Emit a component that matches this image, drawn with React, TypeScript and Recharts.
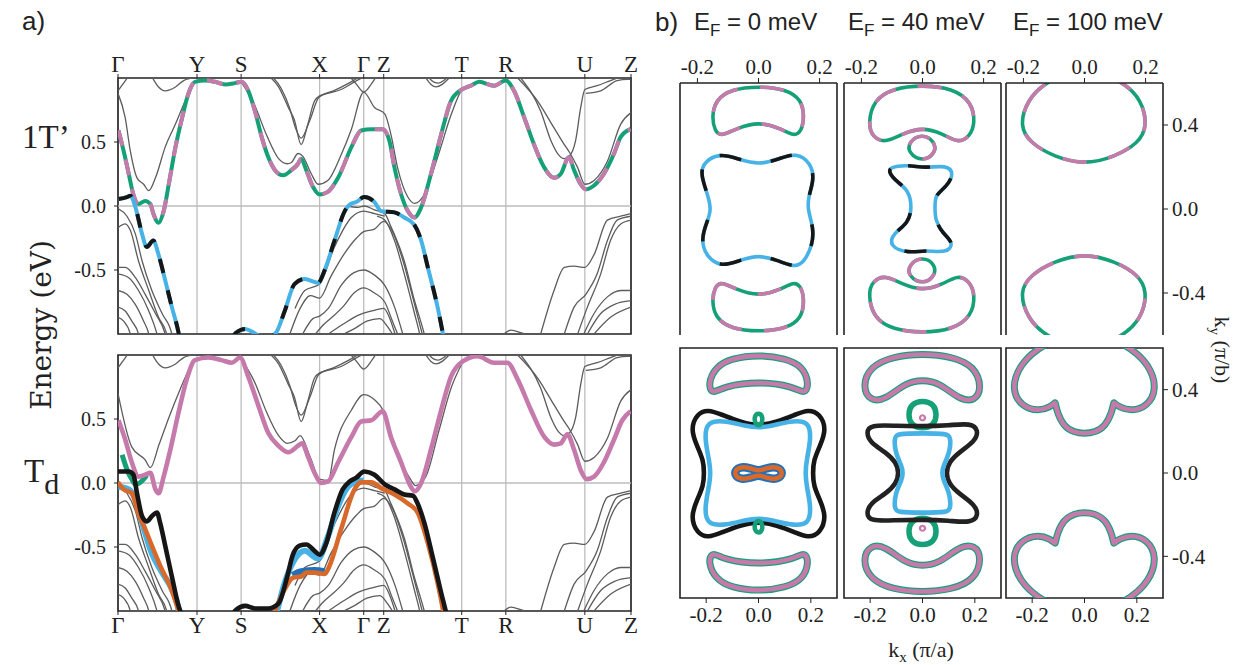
import React from 'react';
import { LineChart, Line, XAxis, YAxis, ReferenceLine, ReferenceArea, CartesianGrid } from 'recharts';

type Pt = [number, number];

const SERIF = '"Liberation Serif", "DejaVu Serif", serif';
const WIDE_SERIF = '"DejaVu Serif", serif';
const SANS = '"Liberation Sans", Arial, sans-serif';

const PINK = '#c67aab';
const GREEN = '#16a077';
const BLUE = '#47b2e6';
const BLACK = '#161616';
const ORANGE = '#d9692a';
const DKBLUE = '#2270b8';
const GRAY = '#5c5c5c';
const GRID = '#bdbdbd';

// k-path position (0..100 of path length) and labels
const pathTicks = [0, 15.4, 24.0, 39.3, 47.9, 51.8, 67.0, 75.6, 91.0, 100];
const pathLabels = ['Γ', 'Y', 'S', 'X', 'Γ', 'Z', 'T', 'R', 'U', 'Z'];
const energyTicks = [-0.5, 0, 0.5];
const kxTicks = [-0.2, 0, 0.2];
const kyTicks = [-0.4, 0, 0.4];
const efValues = ['0', '40', '100'];

// ---- gray bands (shared by both panels)
const bandA0: Pt[] = [[0, 0.9], [0.9, 0.95], [1.8, 1.0], [2.5, 1.05]];
const bandC: Pt[] = [[6.6, 1.01], [7.9, 0.93], [9.2, 0.9], [11.2, 0.93], [12.8, 0.98], [14.4, 1.0], [16, 1.02]];
const bandE1: Pt[] = [[0, -0.02], [1.75, -0.08], [3.4, -0.22], [4.7, -0.43], [6.6, -0.66], [8.6, -0.84], [10.5, -1.0], [11, -1.1]];
const bandE2: Pt[] = [[0, -0.17], [1.4, -0.14], [2.4, -0.19], [4, -0.43], [6, -0.66], [7.9, -0.87], [9.5, -1.0], [10, -1.1]];
const bandF1: Pt[] = [[0, -0.48], [1.4, -0.48], [3.4, -0.56], [5.3, -0.69], [7.3, -0.84], [9.2, -1.0], [9.8, -1.1]];
const bandF2: Pt[] = [[0, -0.53], [2.1, -0.56], [4, -0.66], [6, -0.82], [7.6, -1.0], [8.2, -1.1]];
const bandF3: Pt[] = [[0, -0.66], [1.75, -0.69], [3.4, -0.77], [5, -0.9], [6, -1.0], [6.5, -1.1]];
const bandF4: Pt[] = [[0, -0.79], [1.4, -0.82], [2.7, -0.9], [4, -1.0], [4.5, -1.1]];
const bandF5: Pt[] = [[0, -0.87], [1.1, -0.9], [2.4, -1.0], [2.9, -1.1]];
const bandH1: Pt[] = [[29.3, 1.02], [31.3, 0.93], [33.2, 0.77], [34.4, 0.67], [35.7, 0.48], [37, 0.64], [38.3, 0.82], [39.3, 0.86], [40.9, 0.88], [43.5, 0.91], [46.1, 0.97], [48, 1.01]];
const bandH2: Pt[] = [[29.8, 1.02], [31.8, 0.92], [33.5, 0.76], [34.6, 0.61], [35.7, 0.53], [37.4, 0.67], [39, 0.84], [40, 0.87], [42, 0.9], [45, 0.96], [47.5, 1.02]];
const bandH3: Pt[] = [[44.8, 1.03], [46.5, 0.95], [47.9, 0.89], [49.5, 0.96], [50.5, 1.02]];
const bandI1: Pt[] = [[59.7, 1.02], [61, 0.95], [62, 0.93], [63.2, 0.95], [64.3, 0.99], [65, 1.02]];
const bandI2: Pt[] = [[60.2, 1.02], [61.5, 0.97], [62.5, 0.96], [63.5, 0.98], [64.5, 1.02]];
const bandJ1: Pt[] = [[44.5, 0.0], [46.8, -0.01], [48, 0.0], [50, -0.03], [52, -0.06], [53.2, -0.16], [55.8, -0.43], [57.8, -0.74], [59.7, -1.0], [60.3, -1.1]];
const bandJ2: Pt[] = [[50.5, -0.08], [52, -0.11], [53.9, -0.27], [55.8, -0.53], [57.8, -0.84], [58.8, -1.0], [59.3, -1.1]];
const bandJ3: Pt[] = [[34.5, -0.8], [36.4, -0.66], [39.3, -0.61], [42.2, -0.32], [45.5, -0.09], [47.9, -0.04], [50, -0.06], [52, -0.08]];
const bandJ8: Pt[] = [[33.5, -1.0], [35.5, -0.8], [37.5, -0.7], [39.3, -0.72], [41.5, -0.55], [44, -0.38], [46.5, -0.25], [47.9, -0.2], [50, -0.18], [51.8, -0.12], [53.5, -0.2], [55.5, -0.42], [57.5, -0.72], [59.3, -1.0]];
const bandJ9: Pt[] = [[36, -1.0], [38, -0.88], [39.3, -0.86], [41, -0.8], [43.5, -0.62], [46, -0.52], [47.9, -0.5], [50, -0.54], [52, -0.62], [54, -0.8], [55.5, -1.0]];
const bandJ10: Pt[] = [[38.5, -1.0], [40, -0.93], [42, -0.86], [44, -0.78], [46, -0.68], [47.9, -0.64], [50, -0.68], [52, -0.75], [53.5, -0.9], [54.5, -1.0]];
const bandJ11: Pt[] = [[41, -1.0], [44, -0.92], [47, -0.85], [49.5, -0.82], [51.8, -0.8], [53, -0.88], [54, -1.0]];
const bandJ12: Pt[] = [[44, -1.0], [46, -0.96], [48.5, -0.9], [51, -0.88], [52.5, -0.94], [53.5, -1.0]];
const bandK1: Pt[] = [[77.9, 1.0], [81.8, 0.82], [85, 0.61], [87, 0.48], [88, 0.42], [89.6, 0.3], [91, 0.17], [92.8, 0.2], [95.4, 0.35], [98, 0.64], [100, 0.73]];
const bandK2: Pt[] = [[78.5, 1.0], [82.4, 0.74], [84.4, 0.51], [85.7, 0.41], [87, 0.37], [88, 0.39], [89.2, 0.51], [90.2, 0.77], [91, 0.91], [93.4, 0.94], [96, 0.98], [98, 1.01]];
const bandK3: Pt[] = [[91.2, 0.88], [94.1, 0.9], [97.3, 0.98], [99.3, 0.99], [100, 0.99]];
const bandL1: Pt[] = [[82.4, -1.0], [85, -0.66], [87, -0.48], [88.9, -0.47], [91, -0.48], [92.8, -0.38], [95.4, -0.11], [98, -0.08], [100, -0.06]];
const bandL2: Pt[] = [[87, -1.0], [88.9, -0.79], [91.2, -0.69], [93.4, -0.53], [95.4, -0.27], [97.3, -0.11], [100, -0.08]];
const bandL3: Pt[] = [[89.6, -1.0], [91.5, -0.79], [94.1, -0.53], [96, -0.27], [98, -0.14], [100, -0.11]];
const bandL4: Pt[] = [[90.8, -1.0], [92.8, -0.84], [95.4, -0.71], [98, -0.66], [100, -0.66]];
const bandL5: Pt[] = [[91.5, -1.0], [94.1, -0.84], [96.7, -0.77], [100, -0.74]];
const bandL6: Pt[] = [[92.8, -1.0], [96, -0.87], [100, -0.79]];
const bandL7: Pt[] = [[74.5, -1.03], [76.6, -0.97], [78.5, -0.99], [81.1, -1.03]];

// panel-specific gray bands
const bandA1T: Pt[] = [[0, 0.88], [1.4, 0.69], [2.4, 0.43], [3.7, 0.22], [5, 0.17], [6, 0.12], [7.3, 0.22], [9.2, 0.46], [11.2, 0.64], [13.1, 0.82], [15, 0.97]];
const bandG1T: Pt[] = [[24, 0.97], [26.5, 0.8], [29, 0.55], [31.3, 0.37], [33, 0.33], [33.8, 0.34], [35.1, 0.41], [36, 0.39], [37.7, 0.25], [39, 0.17], [40.9, 0.2], [43.5, 0.4], [45.5, 0.6], [47.9, 0.89], [50, 0.77], [52, 0.72], [53.2, 0.56], [54.5, 0.3], [56.5, 0.07], [57.8, 0.02], [59.7, 0.09], [62.3, 0.38], [65, 0.72], [66.9, 0.9], [68, 0.94]];
const bandATd: Pt[] = [[0, 0.7], [2.7, 0.28], [5.3, 0.18], [6.3, 0.12], [8, 0.3], [10, 0.52], [12, 0.72], [14, 0.9], [15, 0.96]];
const bandGTd: Pt[] = [[24, 0.97], [26.5, 0.8], [29, 0.55], [31.3, 0.37], [33, 0.31], [34.5, 0.33], [35.5, 0.37], [37.5, 0.2], [39.3, 0.03], [41, 0.02], [42.2, 0.26], [45.5, 0.57], [47.9, 0.69], [50, 0.65], [51.8, 0.56], [53.2, 0.39], [55, 0.18], [57, 0.03], [58, -0.02], [60, 0.05], [62.5, 0.4], [65, 0.75], [67, 0.93]];

const sharedGrays: Pt[][] = [bandA0, bandC, bandE1, bandE2, bandF1, bandF2, bandF3, bandF4, bandF5, bandH1, bandH2, bandH3, bandI1, bandI2, bandJ1, bandJ2, bandJ3, bandJ8, bandJ9, bandJ10, bandJ11, bandJ12, bandK1, bandK2, bandK3, bandL1, bandL2, bandL3, bandL4, bandL5, bandL6, bandL7];

// ---- highlighted bands, 1T'
const condT1: Pt[] = [[0.1, 0.59], [1.1, 0.43], [2.1, 0.25], [3.0, 0.09], [4, 0.016], [5.3, 0.04], [6.3, 0.016], [6.9, -0.06], [7.9, -0.13], [8.9, -0.04], [9.9, 0.17], [11.2, 0.46], [12.5, 0.69], [13.7, 0.875], [15, 0.97], [17, 0.98], [18.9, 0.97], [20.9, 0.95], [22.8, 0.96], [24.1, 0.97], [25.4, 0.9], [26.7, 0.74], [28, 0.54], [29.3, 0.38], [30.6, 0.28], [32.2, 0.24], [33.8, 0.28], [35.1, 0.33], [35.7, 0.37], [36.7, 0.28], [38, 0.15], [39.3, 0.09], [40.9, 0.11], [42.9, 0.22], [45.5, 0.46], [47.4, 0.59], [49.4, 0.6], [51.6, 0.6], [52.9, 0.51], [53.9, 0.3], [55.2, 0.09], [56.5, -0.04], [57.8, -0.09], [59.1, -0.01], [61, 0.25], [63, 0.56], [64.9, 0.82], [67, 0.91], [68.8, 0.94], [70.4, 0.97], [73.3, 0.94], [75.6, 0.98], [77.2, 0.9], [79.2, 0.69], [81.1, 0.48], [83.1, 0.3], [85, 0.22], [86.3, 0.25], [87.9, 0.38], [88.9, 0.28], [90.2, 0.17], [91.2, 0.13], [92.8, 0.16], [94.7, 0.25], [96.7, 0.41], [98, 0.54], [99.9, 0.6]];
const valT1: Pt[] = [[0.1, 0.055], [1.75, 0.07], [2.4, 0.08], [3.4, -0.01], [4.7, -0.22], [5.6, -0.32], [6.9, -0.27], [7.9, -0.38], [9.2, -0.58], [10.5, -0.79], [11.8, -0.99], [13, -1.3], [18, -1.35], [21.5, -1.08], [23, -0.99], [24.8, -0.96], [26.5, -0.99], [28.5, -1.03], [30.6, -1.0], [32.5, -0.82], [34.4, -0.61], [36.4, -0.57], [39, -0.6], [40.3, -0.5], [42.2, -0.27], [44.2, -0.04], [45.5, 0.02], [46.4, 0.03], [48, 0.07], [50, 0.03], [51.3, -0.04], [53.9, -0.05], [55.8, -0.09], [57.8, -0.15], [59.1, -0.27], [60.4, -0.48], [62.3, -0.79], [63.3, -0.99], [64.5, -1.25]];

// ---- highlighted bands, Td
const condTd: Pt[] = [[0.1, 0.49], [1.4, 0.34], [2.7, 0.16], [4, 0.05], [5.3, 0.065], [6.3, 0.08], [7.3, -0.05], [7.9, -0.08], [8.9, 0.05], [10.2, 0.26], [11.8, 0.55], [13.4, 0.81], [15, 0.96], [17.6, 0.98], [20.2, 0.96], [22.2, 0.94], [23.8, 0.98], [25.4, 0.83], [27.4, 0.6], [29.3, 0.39], [31.3, 0.29], [33.2, 0.24], [35.4, 0.3], [35.9, 0.31], [37, 0.21], [38.3, 0.08], [39.6, 0.0], [40.9, 0.01], [42.9, 0.16], [45.5, 0.36], [47.4, 0.48], [49.4, 0.49], [51.6, 0.56], [53.2, 0.36], [55.2, 0.16], [57.1, -0.03], [57.9, -0.065], [59.1, 0.0], [61, 0.26], [63, 0.57], [64.9, 0.83], [67.2, 0.95], [70.1, 0.99], [73.3, 0.94], [75.9, 0.94], [77.9, 0.81], [80.5, 0.57], [83.1, 0.36], [85, 0.3], [86.3, 0.31], [87.6, 0.38], [88.9, 0.26], [90.2, 0.1], [91.4, 0.03], [92.8, 0.05], [94.7, 0.16], [96.7, 0.34], [98.3, 0.49], [99.9, 0.56]];
const greenTd: Pt[] = [[0.8, 0.22], [2, 0.08], [2.7, 0.03], [3.4, -0.01], [4.2, 0.0], [5, 0.03], [5.6, 0.06]];
const blueTd: Pt[] = [[0.1, -0.03], [2.1, -0.05], [3.4, -0.13], [4.7, -0.31], [6.6, -0.55], [8.6, -0.7], [10.5, -0.83], [11.8, -0.98], [13, -1.3], [29, -1.3], [31, -1.0], [32.5, -0.78], [34.4, -0.6], [36.4, -0.53], [39, -0.59], [40.9, -0.42], [42.9, -0.18], [44.8, -0.03], [46.4, 0.01], [47.9, 0.02]];
const dkBlueTd: Pt[] = [[34, -0.72], [35.7, -0.69], [38.3, -0.68], [40.3, -0.69]];
const blackTd: Pt[] = [[0, 0.09], [2.1, 0.09], [3, 0.065], [3.7, -0.08], [4.7, -0.26], [5.6, -0.3], [6.6, -0.26], [7.6, -0.23], [8.2, -0.31], [9.2, -0.49], [10.5, -0.73], [11.8, -0.96], [12.5, -1.04], [14, -1.3], [20, -1.3], [22.8, -1.0], [24.8, -0.96], [26.7, -0.98], [29.3, -0.98], [31.3, -0.94], [33, -0.73], [34, -0.57], [35.4, -0.49], [36.7, -0.48], [38.3, -0.53], [39.3, -0.56], [40.6, -0.47], [42.2, -0.23], [43.8, -0.05], [45.1, 0.01], [46.4, 0.04], [48, 0.09], [50, 0.065], [52, -0.01], [53.9, -0.05], [55.8, -0.09], [57.5, -0.1], [58.4, -0.16], [59.7, -0.31], [61.3, -0.57], [63, -0.86], [64, -1.02], [65.5, -1.3]];
const orangeTd: Pt[] = [[0, 0.005], [1.1, -0.05], [2.7, -0.08], [4, -0.24], [5.3, -0.36], [6.6, -0.49], [8.6, -0.68], [10.2, -0.81], [11.5, -0.96], [12.1, -1.04], [14, -1.3], [28, -1.3], [30.6, -1.0], [32.5, -0.83], [34.1, -0.74], [35.7, -0.73], [36.7, -0.7], [38.3, -0.7], [40.3, -0.71], [41.2, -0.65], [43.5, -0.36], [46.1, -0.05], [47.4, 0.005], [49.4, 0.005], [51.3, -0.04], [53.9, -0.09], [56.5, -0.16], [58.4, -0.23], [60.4, -0.47], [62.3, -0.78], [63.3, -0.98], [64.5, -1.3]];

// ---- Fermi contours, 1T' (top row)
const fs0Top: Pt[] = [[-0.153, 0.44], [-0.14, 0.52], [-0.09, 0.57], [0, 0.585], [0.091, 0.57], [0.141, 0.52], [0.15, 0.44], [0.141, 0.37], [0.116, 0.345], [0.073, 0.384], [0, 0.416], [-0.072, 0.384], [-0.122, 0.345], [-0.143, 0.37]];
const fs0Bot: Pt[] = [[-0.153, -0.44], [-0.143, -0.37], [-0.122, -0.345], [-0.072, -0.384], [0, -0.416], [0.073, -0.384], [0.116, -0.345], [0.141, -0.37], [0.15, -0.44], [0.141, -0.52], [0.091, -0.57], [0, -0.585], [-0.09, -0.57], [-0.14, -0.52]];
const fs0Mid: Pt[] = [[-0.185, 0.217], [-0.128, 0.268], [-0.065, 0.237], [0, 0.21], [0.066, 0.237], [0.123, 0.27], [0.173, 0.217], [0.182, 0.138], [0.163, 0.059], [0.161, -0.005], [0.179, -0.084], [0.179, -0.163], [0.148, -0.259], [0.116, -0.277], [0.06, -0.243], [0, -0.219], [-0.059, -0.243], [-0.122, -0.277], [-0.171, -0.227], [-0.188, -0.148], [-0.171, -0.068], [-0.153, -0.005], [-0.168, 0.075], [-0.187, 0.154]];
const fs40Top: Pt[] = [[-0.178, 0.408], [-0.16, 0.519], [-0.097, 0.575], [0, 0.59], [0.098, 0.575], [0.161, 0.511], [0.173, 0.408], [0.154, 0.344], [0.116, 0.313], [0.066, 0.36], [0, 0.389], [-0.065, 0.36], [-0.122, 0.313], [-0.165, 0.344]];
const fs40Bot: Pt[] = [[-0.178, -0.408], [-0.165, -0.344], [-0.122, -0.313], [-0.065, -0.36], [0, -0.389], [0.066, -0.36], [0.116, -0.313], [0.154, -0.344], [0.173, -0.408], [0.161, -0.511], [0.098, -0.575], [0, -0.59], [-0.097, -0.575], [-0.16, -0.519]];
const fs40LoopUp: Pt[] = [[0, 0.36], [0.041, 0.32], [0.043, 0.265], [0, 0.225], [-0.046, 0.265], [-0.046, 0.32]];
const fs40LoopDn: Pt[] = [[0, -0.36], [-0.046, -0.32], [-0.046, -0.265], [0, -0.225], [0.043, -0.265], [0.041, -0.32]];
const fs40Mid: Pt[] = [[-0.109, 0.2], [-0.046, 0.21], [0.01, 0.194], [0.079, 0.21], [0.104, 0.17], [0.079, 0.106], [0.041, 0.067], [0.041, 0.011], [0.041, -0.052], [0.066, -0.116], [0.104, -0.163], [0.079, -0.211], [0.01, -0.195], [-0.046, -0.211], [-0.109, -0.179], [-0.097, -0.116], [-0.046, -0.068], [-0.034, 0.011], [-0.046, 0.09], [-0.084, 0.13], [-0.109, 0.17]];
const fs100Top: Pt[] = [[-0.213, 0.392], [-0.188, 0.519], [-0.125, 0.61], [0, 0.68], [0.125, 0.61], [0.188, 0.519], [0.206, 0.392], [0.176, 0.313], [0.1, 0.249], [0, 0.21], [-0.1, 0.249], [-0.176, 0.313]];
const fs100Bot: Pt[] = [[-0.213, -0.392], [-0.176, -0.313], [-0.1, -0.249], [0, -0.21], [0.1, -0.249], [0.176, -0.313], [0.206, -0.392], [0.188, -0.519], [0.125, -0.61], [0, -0.68], [-0.125, -0.61], [-0.188, -0.519]];

// ---- Fermi contours, Td (bottom row)
const td0Top: Pt[] = [[-0.193, 0.43], [-0.163, 0.51], [-0.104, 0.55], [0, 0.568], [0.104, 0.55], [0.17, 0.51], [0.193, 0.43], [0.178, 0.376], [0.133, 0.416], [0, 0.44], [-0.133, 0.416], [-0.178, 0.376]];
const td0Bot: Pt[] = [[-0.193, -0.43], [-0.178, -0.376], [-0.133, -0.416], [0, -0.44], [0.133, -0.416], [0.178, -0.376], [0.193, -0.43], [0.17, -0.51], [0.104, -0.55], [0, -0.568], [-0.104, -0.55], [-0.163, -0.51]];
const td0Black: Pt[] = [[-0.193, 0.305], [-0.14, 0.28], [-0.07, 0.245], [0, 0.225], [0.07, 0.245], [0.14, 0.28], [0.19, 0.305], [0.235, 0.285], [0.26, 0.21], [0.235, 0.13], [0.21, 0.06], [0.208, 0], [0.21, -0.06], [0.235, -0.13], [0.26, -0.21], [0.235, -0.29], [0.19, -0.312], [0.14, -0.285], [0.07, -0.25], [0, -0.232], [-0.07, -0.25], [-0.14, -0.285], [-0.193, -0.312], [-0.235, -0.29], [-0.26, -0.21], [-0.235, -0.13], [-0.21, -0.06], [-0.208, 0], [-0.21, 0.06], [-0.235, 0.13], [-0.26, 0.21], [-0.235, 0.285]];
const td0Blue: Pt[] = [[-0.2, 0.25], [-0.12, 0.25], [-0.05, 0.225], [0, 0.218], [0.05, 0.225], [0.12, 0.25], [0.195, 0.25], [0.2, 0.16], [0.185, 0.07], [0.178, 0], [0.185, -0.07], [0.2, -0.16], [0.195, -0.25], [0.12, -0.25], [0.05, -0.225], [0, -0.218], [-0.05, -0.225], [-0.12, -0.25], [-0.2, -0.25], [-0.205, -0.16], [-0.19, -0.07], [-0.182, 0], [-0.19, 0.07], [-0.205, 0.16]];
const td0Peanut: Pt[] = [[-0.096, 0], [-0.074, 0.032], [-0.03, 0.024], [0, 0.008], [0.03, 0.024], [0.074, 0.032], [0.096, 0], [0.074, -0.032], [0.03, -0.024], [0, -0.008], [-0.03, -0.024], [-0.074, -0.032]];
const td0LoopUp: Pt[] = [[0, 0.29], [0.016, 0.275], [0.014, 0.24], [0, 0.225], [-0.014, 0.24], [-0.016, 0.275]];
const td0LoopDn: Pt[] = [[0, -0.29], [-0.016, -0.275], [-0.014, -0.24], [0, -0.225], [0.014, -0.24], [0.016, -0.275]];
const td40Top: Pt[] = [[-0.23, 0.416], [-0.2, 0.512], [-0.111, 0.56], [0, 0.573], [0.111, 0.56], [0.2, 0.512], [0.227, 0.408], [0.2, 0.344], [0.141, 0.352], [0.067, 0.432], [0, 0.448], [-0.067, 0.432], [-0.141, 0.352], [-0.2, 0.344]];
const td40Bot: Pt[] = [[-0.23, -0.416], [-0.2, -0.344], [-0.141, -0.352], [-0.067, -0.432], [0, -0.448], [0.067, -0.432], [0.141, -0.352], [0.2, -0.344], [0.227, -0.408], [0.2, -0.512], [0.111, -0.56], [0, -0.573], [-0.111, -0.56], [-0.2, -0.512]];
const td40LoopUp: Pt[] = [[0, 0.35], [0.045, 0.33], [0.055, 0.28], [0.045, 0.23], [0, 0.21], [-0.045, 0.23], [-0.055, 0.28], [-0.045, 0.33]];
const td40LoopDn: Pt[] = [[0, -0.35], [-0.045, -0.33], [-0.055, -0.28], [-0.045, -0.23], [0, -0.21], [0.045, -0.23], [0.055, -0.28], [0.045, -0.33]];
const td40DotUp: Pt[] = [[0, 0.272], [0.007, 0.265], [0, 0.258], [-0.007, 0.265]];
const td40DotDn: Pt[] = [[0, -0.272], [-0.007, -0.265], [0, -0.258], [0.007, -0.265]];
const td40Black: Pt[] = [[-0.2, 0.232], [-0.1, 0.226], [0, 0.224], [0.1, 0.228], [0.185, 0.24], [0.215, 0.205], [0.2, 0.15], [0.14, 0.1], [0.1, 0.05], [0.09, 0], [0.1, -0.05], [0.14, -0.1], [0.2, -0.15], [0.215, -0.205], [0.185, -0.24], [0.1, -0.228], [0, -0.224], [-0.1, -0.226], [-0.2, -0.232], [-0.215, -0.195], [-0.2, -0.145], [-0.14, -0.1], [-0.1, -0.05], [-0.09, 0], [-0.1, 0.05], [-0.14, 0.1], [-0.2, 0.145], [-0.215, 0.195]];
const td40Blue: Pt[] = [[-0.108, 0.17], [-0.095, 0.19], [0, 0.19], [0.095, 0.19], [0.108, 0.17], [0.105, 0.1], [0.078, 0.03], [0.075, 0], [0.078, -0.03], [0.105, -0.1], [0.108, -0.17], [0.095, -0.19], [0, -0.19], [-0.095, -0.19], [-0.108, -0.17], [-0.105, -0.1], [-0.078, -0.03], [-0.075, 0], [-0.078, 0.03], [-0.105, 0.1]];
const td100Top: Pt[] = [[-0.279, 0.4], [-0.25, 0.52], [-0.16, 0.62], [0, 0.7], [0.16, 0.62], [0.25, 0.52], [0.277, 0.4], [0.24, 0.32], [0.181, 0.296], [0.13, 0.318], [0.112, 0.338], [0.112, 0.338], [0.104, 0.29], [0.08, 0.225], [0.04, 0.195], [0, 0.189], [-0.04, 0.195], [-0.08, 0.225], [-0.104, 0.29], [-0.112, 0.338], [-0.112, 0.338], [-0.13, 0.318], [-0.175, 0.296], [-0.241, 0.32]];
const td100Bot: Pt[] = [[-0.279, -0.4], [-0.241, -0.32], [-0.175, -0.296], [-0.13, -0.318], [-0.112, -0.338], [-0.112, -0.338], [-0.104, -0.29], [-0.08, -0.225], [-0.04, -0.195], [0, -0.189], [0.04, -0.195], [0.08, -0.225], [0.104, -0.29], [0.112, -0.338], [0.112, -0.338], [0.13, -0.318], [0.181, -0.296], [0.24, -0.32], [0.277, -0.4], [0.25, -0.52], [0.16, -0.62], [0, -0.7], [-0.16, -0.62], [-0.25, -0.52]];

interface Curve { pts: Pt[]; color: string; width: number; dash?: string; }

const rows = (pts: Pt[]) => pts.map(([x, y]) => ({ x, y }));

const bandLine = (pts: Pt[], key: string, color: string, width: number, dash?: string) => (
  <Line key={key} data={rows(pts)} dataKey="y" type="monotone" stroke={color} strokeWidth={width}
    strokeDasharray={dash} dot={false} activeDot={false} isAnimationActive={false} />
);

const contourLine = (c: Curve, key: string) => (
  <Line key={key} data={rows(c.pts)} dataKey="y" type="basisClosed" stroke={c.color} strokeWidth={c.width}
    strokeDasharray={c.dash} dot={false} activeDot={false} isAnimationActive={false} />
);

const tickFont = { fontSize: 20, fontFamily: SERIF, fill: '#222' };

function BandPanel({ top, height, labelsOnTop, grays, curves }: {
  top: number; height: number; labelsOnTop: boolean; grays: Pt[][]; curves: Curve[];
}) {
  const margin = labelsOnTop ? { top: 48, right: 9, bottom: 11, left: 58 } : { top: 15, right: 9, bottom: 4, left: 58 };
  return (
    <div style={{ position: 'absolute', left: 0, top }}>
      <LineChart width={640} height={height} margin={margin}>
        <CartesianGrid horizontal={false} stroke={GRID} strokeWidth={1.3} />
        <XAxis dataKey="x" type="number" domain={[0, 100]} ticks={pathTicks} interval={0} allowDataOverflow
          orientation={labelsOnTop ? 'top' : 'bottom'} height={30} tickSize={4} tickMargin={2}
          tickFormatter={(v: number) => pathLabels[pathTicks.indexOf(v)]}
          tick={{ ...tickFont, fontSize: 23 }} axisLine={false} tickLine={{ stroke: '#222' }} />
        <YAxis type="number" domain={[-1, 1]} ticks={energyTicks} allowDataOverflow width={60} tickSize={4} tickMargin={8}
          tickFormatter={(v: number) => v.toFixed(1)} tick={tickFont} axisLine={false} tickLine={{ stroke: '#222' }} />
        <ReferenceLine y={0} stroke={GRID} strokeWidth={1.3} />
        {grays.map((p, i) => bandLine(p, 'g' + i, GRAY, 1.3))}
        {curves.map((c, i) => bandLine(c.pts, 'c' + i, c.color, c.width, c.dash))}
        <ReferenceArea x1={0} x2={100} y1={-1} y2={1} fill="none" stroke="#222" strokeWidth={1.6} />
      </LineChart>
    </div>
  );
}

function FermiPanel({ col, topRow, curves }: { col: number; topRow: boolean; curves: Curve[] }) {
  const plotLeft = [680, 844, 1006][col];
  const right = col === 2;
  const kx = topRow ? 0.257 : 0.3;
  const side = 25;
  const width = 157 + 2 * side + (right ? 45 : 0);
  const margin = { top: 5, right: side, bottom: topRow ? 0 : 5, left: side };
  return (
    <div style={{ position: 'absolute', left: plotLeft - side, top: topRow ? 43 : 343 }}>
      <LineChart width={width} height={topRow ? 292 : 295} margin={margin}>
        <XAxis dataKey="x" type="number" domain={[-kx, kx]} ticks={kxTicks} interval={0} allowDataOverflow
          orientation={topRow ? 'top' : 'bottom'} height={35} tickSize={5} tickMargin={4}
          tickFormatter={(v: number) => v.toFixed(1)} tick={{ ...tickFont, fontSize: 21 }}
          axisLine={topRow ? { stroke: '#222', strokeWidth: 1.6 } : false} tickLine={{ stroke: '#222' }} />
        <YAxis type="number" domain={[-0.6, 0.6]} ticks={kyTicks} allowDataOverflow hide={!right}
          orientation="right" width={45} tickSize={5} tickMargin={4}
          tickFormatter={(v: number) => v.toFixed(1)} tick={{ ...tickFont, fontSize: 21, textAnchor: 'start' }}
          axisLine={false} tickLine={{ stroke: '#222' }} />
        {curves.map((c, i) => contourLine(c, 'f' + i))}
        {topRow ? <ReferenceLine x={-kx} stroke="#222" strokeWidth={1.6} /> : null}
        {topRow ? <ReferenceLine x={kx} stroke="#222" strokeWidth={1.6} /> : null}
        {!topRow ? <ReferenceArea x1={-kx} x2={kx} y1={-0.6} y2={0.6} fill="none" stroke="#222" strokeWidth={1.6} /> : null}
      </LineChart>
    </div>
  );
}

const dashPG = (pts: Pt[]): Curve[] => [
  { pts, color: GREEN, width: 3.6 },
  { pts, color: PINK, width: 3.6, dash: '24 22' },
];
const dashBB = (pts: Pt[]): Curve[] => [
  { pts, color: BLUE, width: 3.6 },
  { pts, color: BLACK, width: 3.6, dash: '22 30' },
];
const solidPG = (pts: Pt[]): Curve[] => [
  { pts, color: GREEN, width: 7 },
  { pts, color: PINK, width: 4.6 },
];

const topRowCurves: Curve[][] = [
  [...dashPG(fs0Top), ...dashPG(fs0Bot), ...dashBB(fs0Mid)],
  [...dashPG(fs40Top), ...dashPG(fs40Bot), ...dashPG(fs40LoopUp), ...dashPG(fs40LoopDn), ...dashBB(fs40Mid)],
  [...dashPG(fs100Top), ...dashPG(fs100Bot)],
];
const bottomRowCurves: Curve[][] = [
  [...solidPG(td0Top), ...solidPG(td0Bot), { pts: td0Black, color: BLACK, width: 4.6 }, { pts: td0Blue, color: BLUE, width: 4.6 },
    { pts: td0Peanut, color: DKBLUE, width: 8.5 }, { pts: td0Peanut, color: ORANGE, width: 4.5 },
    { pts: td0LoopUp, color: GREEN, width: 4.5 }, { pts: td0LoopDn, color: GREEN, width: 4.5 }],
  [...solidPG(td40Top), ...solidPG(td40Bot), { pts: td40LoopUp, color: GREEN, width: 5.5 }, { pts: td40LoopDn, color: GREEN, width: 5.5 },
    { pts: td40DotUp, color: PINK, width: 5 }, { pts: td40DotDn, color: PINK, width: 5 },
    { pts: td40Black, color: '#222', width: 4.6 }, { pts: td40Blue, color: BLUE, width: 4.6 }],
  [...solidPG(td100Top), ...solidPG(td100Bot)],
];

const topBandCurves: Curve[] = [
  { pts: condT1, color: GREEN, width: 4 },
  { pts: condT1, color: PINK, width: 4, dash: '16 14' },
  { pts: valT1, color: BLUE, width: 4 },
  { pts: valT1, color: BLACK, width: 4, dash: '14 18' },
];
const bottomBandCurves: Curve[] = [
  { pts: greenTd, color: GREEN, width: 5 },
  { pts: condTd, color: PINK, width: 4.6 },
  { pts: blueTd, color: BLUE, width: 6 },
  { pts: dkBlueTd, color: DKBLUE, width: 6 },
  { pts: orangeTd, color: ORANGE, width: 4.6 },
  { pts: blackTd, color: BLACK, width: 4.6 },
];

const abs = (s: React.CSSProperties): React.CSSProperties => ({ position: 'absolute', whiteSpace: 'nowrap', lineHeight: 1, ...s });

export default function App() {
  return (
    <div style={{ position: 'absolute', left: 0, top: 0, width: 1240, height: 665, background: '#fff', overflow: 'hidden', color: '#222' }}>
      <BandPanel top={0} height={345} labelsOnTop grays={[...sharedGrays, bandA1T, bandG1T]} curves={topBandCurves} />
      <BandPanel top={340} height={305} labelsOnTop={false} grays={[...sharedGrays, bandATd, bandGTd]} curves={bottomBandCurves} />
      {[0, 1, 2].map((c) => <FermiPanel key={'t' + c} col={c} topRow curves={topRowCurves[c]} />)}
      {[0, 1, 2].map((c) => <FermiPanel key={'b' + c} col={c} topRow={false} curves={bottomRowCurves[c]} />)}

      <div style={abs({ left: 22, top: 8, fontSize: 26, fontFamily: SANS })}>a)</div>
      <div style={abs({ left: 655, top: 9, fontSize: 26, fontFamily: SANS })}>b)</div>
      {efValues.map((v, i) => (
        <div key={v} style={abs({ left: [694, 848, 1013][i], top: 10, fontSize: 24, fontFamily: SANS })}>
          E<span style={{ fontSize: 17, position: 'relative', top: 6 }}>F</span> = {v} meV
        </div>
      ))}
      <div style={abs({ left: 22, top: 121, fontSize: 33, fontFamily: SERIF })}>1T’</div>
      <div style={abs({ left: 24, top: 455, fontSize: 33, fontFamily: SERIF })}>
        T<span style={{ fontSize: 30, position: 'relative', top: 12 }}>d</span>
      </div>
      <div style={abs({ left: 42, top: 325, fontSize: 28, fontFamily: WIDE_SERIF, transform: 'translate(-50%, -50%) rotate(-90deg)' })}>Energy (eV)</div>
      <div style={abs({ left: 921, top: 650, fontSize: 22, fontFamily: SERIF, transform: 'translate(-50%, -50%)' })}>
        k<span style={{ fontSize: 15, position: 'relative', top: 5 }}>x</span> (π/a)
      </div>
      <div style={abs({ left: 1222, top: 350, fontSize: 22, fontFamily: SERIF, transform: 'translate(-50%, -50%) rotate(90deg)' })}>
        k<span style={{ fontSize: 15, position: 'relative', top: 5 }}>y</span> (π/b)
      </div>
    </div>
  );
}
